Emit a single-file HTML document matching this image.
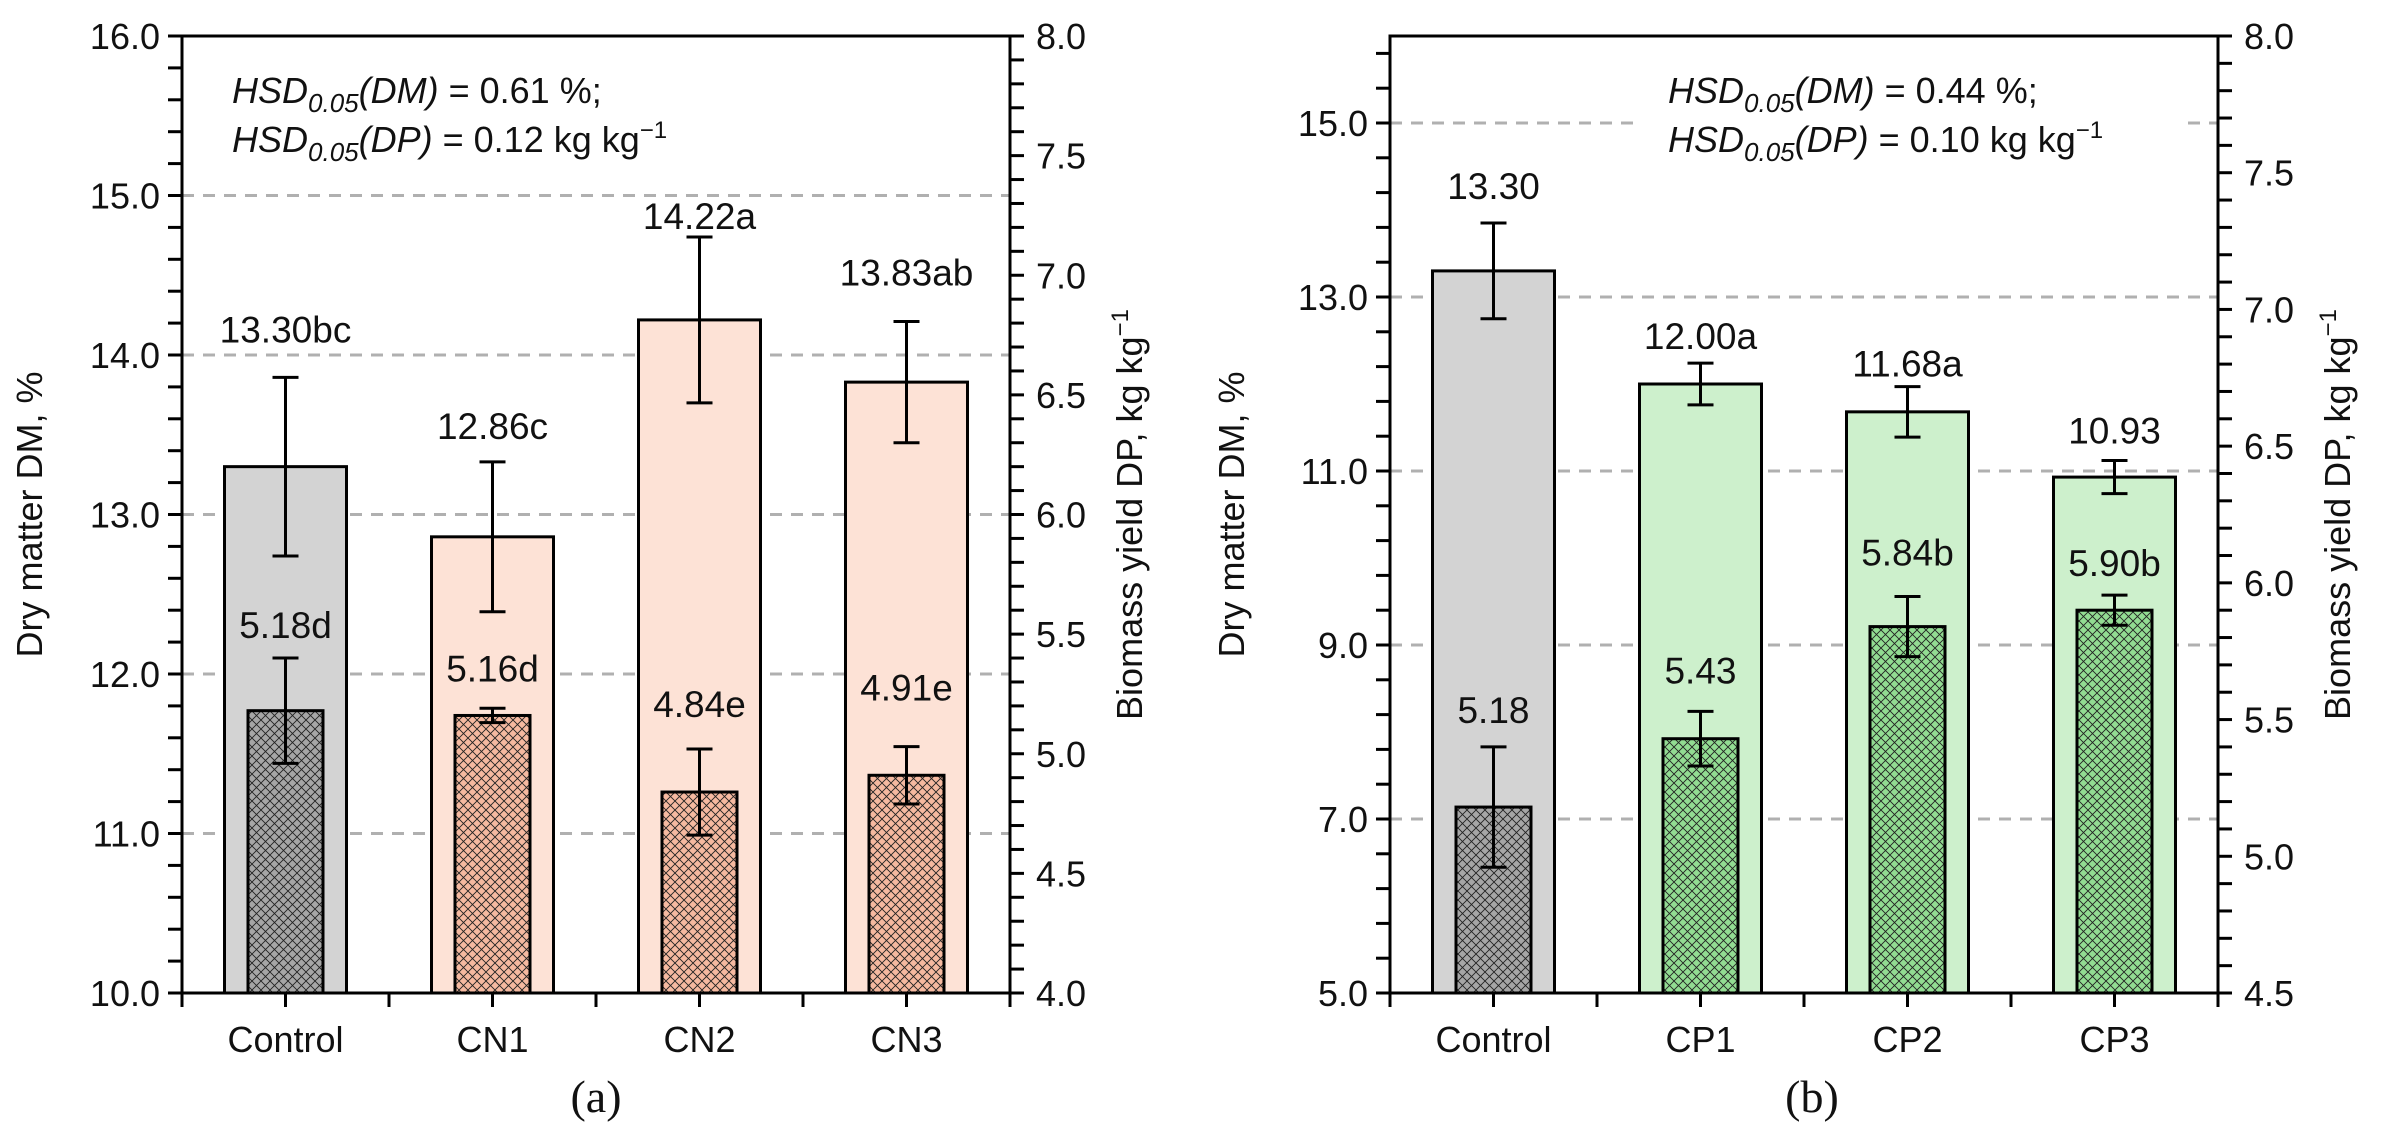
<!DOCTYPE html>
<html><head><meta charset="utf-8">
<style>
html,body{margin:0;padding:0;background:#fff;}
svg{display:block;font-family:"Liberation Sans",Arial,sans-serif;}
</style></head>
<body>
<svg id="chart" width="2386" height="1143" viewBox="0 0 2386 1143" xmlns="http://www.w3.org/2000/svg">
<defs>
<pattern id="hatch" width="9" height="9" patternUnits="userSpaceOnUse">
<path d="M0,0 L9,9 M9,0 L0,9" stroke="#222" stroke-width="0.9"/>
</pattern>
</defs>
</svg>
<script>
// ---- Panel (a) data ----
const catsA = ["Control","CN1","CN2","CN3"];
const dmA = [13.30, 12.86, 14.22, 13.83];
const dmErrA = [0.56, 0.47, 0.52, 0.38];
const dmLabA = ["13.30bc","12.86c","14.22a","13.83ab"];
const dpA = [5.18, 5.16, 4.84, 4.91];
const dpErrA = [0.22, 0.03, 0.18, 0.12];
const dpLabA = ["5.18d","5.16d","4.84e","4.91e"];
// ---- Panel (b) data ----
const catsB = ["Control","CP1","CP2","CP3"];
const dmB = [13.30, 12.00, 11.68, 10.93];
const dmErrB = [0.55, 0.24, 0.29, 0.19];
const dmLabB = ["13.30","12.00a","11.68a","10.93"];
const dpB = [5.18, 5.43, 5.84, 5.90];
const dpErrB = [0.22, 0.10, 0.11, 0.055];
const dpLabB = ["5.18","5.43","5.84b","5.90b"];
// tick labels
const leftTicksA = [10,11,12,13,14,15,16];
const rightTicksA = [4.0,4.5,5.0,5.5,6.0,6.5,7.0,7.5,8.0];
const leftTicksB = [5,7,9,11,13,15];
const rightTicksB = [4.5,5.0,5.5,6.0,6.5,7.0,7.5,8.0];

// layout (not data)
const dmLabelDyA = [35,23,8,36], dpLabelDyA = [20,27,32,46];
const dmLabelDyB = [24,14,10,17], dpLabelDyB = [24,28,31,19];

const NS = "http://www.w3.org/2000/svg";
const svg = document.getElementById("chart");
function mk(tag, attrs, parent){
  const e = document.createElementNS(NS, tag);
  for (const k in attrs) e.setAttribute(k, attrs[k]);
  (parent||svg).appendChild(e);
  return e;
}

function panel(cfg){
  const g = mk("g", {});
  
  
  const top = 36, bot = 993, L = cfg.x0, R = cfg.x1;
  const yL = v => bot - (v - cfg.lmin)/(cfg.lmax - cfg.lmin)*(bot-top);
  const yR = v => bot - (v - cfg.rmin)/(cfg.rmax - cfg.rmin)*(bot-top);
  const cw = (R-L)/cfg.cats.length;
  const cx = i => L + cw*(i+0.5);

  // gridlines
  cfg.grid.forEach(v=>{
    const y = yL(v);
    const ln = mk("line",{x1:L,x2:R,y1:y,y2:y,stroke:"#b0b0b0","stroke-width":3,"stroke-dasharray":"12,9"},g);
    
    
  });

  // HSD note
  const note = mk("g",{},g);
  
  
  if (cfg.noteBg) mk("rect",{x:cfg.noteX-35,y:70,width:cfg.noteW,height:95,fill:"#fff"},note);
  const t1 = mk("text",{x:cfg.noteX,y:103,"font-size":36,fill:"#111"},note);
  t1.innerHTML = '<tspan font-style="italic">HSD</tspan><tspan font-style="italic" font-size="26" dy="9">0.05</tspan><tspan font-style="italic" dy="-9">(DM)</tspan> = '+cfg.hsd1+' %;';
  const t2 = mk("text",{x:cfg.noteX,y:152,"font-size":36,fill:"#111"},note);
  t2.innerHTML = '<tspan font-style="italic">HSD</tspan><tspan font-style="italic" font-size="26" dy="9">0.05</tspan><tspan font-style="italic" dy="-9">(DP)</tspan> = '+cfg.hsd2+' kg kg<tspan font-size="24" dy="-14">−1</tspan>';

  cfg.cats.forEach((c,i)=>{
    const x = cx(i);
    const fill = i===0 ? "#d3d3d3" : cfg.fill;
    const hfill = i===0 ? "#a6a6a6" : cfg.hfill;
    const bw = 122, hw = 75;
    const yT = yL(cfg.dm[i]);
    const b = mk("rect",{x:x-bw/2,y:yT,width:bw,height:bot-yT,fill:fill,stroke:"#000","stroke-width":3},g);
    
    
    const yH = yR(cfg.dp[i]);
    mk("rect",{x:x-hw/2,y:yH,width:hw,height:bot-yH,fill:hfill},g);
    const hb = mk("rect",{x:x-hw/2,y:yH,width:hw,height:bot-yH,fill:"url(#hatch)",stroke:"#000","stroke-width":3},g);
    
    
    // error bars
    [[yL(cfg.dm[i]+cfg.dmErr[i]), yL(cfg.dm[i]-cfg.dmErr[i]),'dm'],[yR(cfg.dp[i]+cfg.dpErr[i]), yR(cfg.dp[i]-cfg.dpErr[i]),'dp']].forEach(e=>{
      const eg = mk("g",{stroke:"#000","stroke-width":3},g);
      
      
      mk("line",{x1:x,x2:x,y1:e[0],y2:e[1]},eg);
      mk("line",{x1:x-13,x2:x+13,y1:e[0],y2:e[0]},eg);
      mk("line",{x1:x-13,x2:x+13,y1:e[1],y2:e[1]},eg);
    });
    const l1 = mk("text",{x:x,y:yL(cfg.dm[i]+cfg.dmErr[i])-cfg.dmDy[i],"text-anchor":"middle","font-size":37,fill:"#111"},g);
    l1.textContent = cfg.dmLab[i];
    
    
    const l2 = mk("text",{x:x,y:yR(cfg.dp[i]+cfg.dpErr[i])-cfg.dpDy[i],"text-anchor":"middle","font-size":37,fill:"#111"},g);
    l2.textContent = cfg.dpLab[i];
    
    
    const cl = mk("text",{x:x,y:1052,"text-anchor":"middle","font-size":36,fill:"#111"},g);
    cl.textContent = c;
    
    
  });

  // axes frame
  const ax = mk("g",{stroke:"#000","stroke-width":3,fill:"none"},g);
  
  
  mk("rect",{x:L,y:top,width:R-L,height:bot-top},ax);
  // left ticks
  for (let v=cfg.lmin; v<=cfg.lmax+1e-9; v+=cfg.lminor){
    const y=yL(v); mk("line",{x1:L-14,x2:L,y1:y,y2:y},ax);
  }
  for (let v=cfg.rmin; v<=cfg.rmax+1e-9; v+=0.1){
    const y=yR(v); mk("line",{x1:R,x2:R+14,y1:y,y2:y},ax);
  }
  for (let k=0;k<=cfg.cats.length*2;k++){
    const x=L+cw*k/2; mk("line",{x1:x,x2:x,y1:bot,y2:bot+14},ax);
  }
  cfg.lt.forEach(v=>{
    const t = mk("text",{x:L-22,y:yL(v)+13,"text-anchor":"end","font-size":36,fill:"#111"},g);
    t.textContent = v.toFixed(1);
    
    
  });
  cfg.rt.forEach(v=>{
    const t = mk("text",{x:R+26,y:yR(v)+13,"font-size":36,fill:"#111"},g);
    t.textContent = v.toFixed(1);
    
    
  });
  const my = (top+bot)/2;
  const lt = mk("text",{x:cfg.ltx,y:my,"text-anchor":"middle","font-size":36,fill:"#111",transform:`rotate(-90 ${cfg.ltx} ${my})`},g);
  lt.textContent = "Dry matter DM, %";
  
  
  const rtt = mk("text",{x:cfg.rtx,y:my,"text-anchor":"middle","font-size":36,fill:"#111",transform:`rotate(-90 ${cfg.rtx} ${my})`},g);
  rtt.innerHTML = 'Biomass yield DP, kg kg<tspan font-size="24" dy="-14">−1</tspan>';
  
  
  const pl = mk("text",{x:(L+R)/2+cfg.plDx,y:1112,"text-anchor":"middle","font-size":46,fill:"#111","font-family":"Liberation Serif, serif"},g);
  pl.textContent = cfg.tag;
  
  
}

panel({name:"panel-a",x0:182,x1:1010,lmin:10,lmax:16,rmin:4,rmax:8,lminor:0.2,
  cats:catsA,dm:dmA,dmErr:dmErrA,dmLab:dmLabA,dp:dpA,dpErr:dpErrA,dpLab:dpLabA,
  dmDy:dmLabelDyA,dpDy:dpLabelDyA,grid:[11,12,13,14,15],lt:leftTicksA,rt:rightTicksA,
  fill:"#fde2d6",hfill:"#f5b9a0",noteX:232,noteBg:false,hsd1:"0.61",hsd2:"0.12",
  ltx:42,rtx:1142,tag:"(a)",plDx:0});
panel({name:"panel-b",x0:1390,x1:2218,lmin:5,lmax:16,rmin:4.5,rmax:8,lminor:0.4,
  cats:catsB,dm:dmB,dmErr:dmErrB,dmLab:dmLabB,dp:dpB,dpErr:dpErrB,dpLab:dpLabB,
  dmDy:dmLabelDyB,dpDy:dpLabelDyB,grid:[7,9,11,13,15],lt:leftTicksB,rt:rightTicksB,
  fill:"#cdf0cc",hfill:"#92dc92",noteX:1668,noteBg:true,noteW:550,hsd1:"0.44",hsd2:"0.10",
  ltx:1244,rtx:2350,tag:"(b)",plDx:8});
</script>
</body></html>
